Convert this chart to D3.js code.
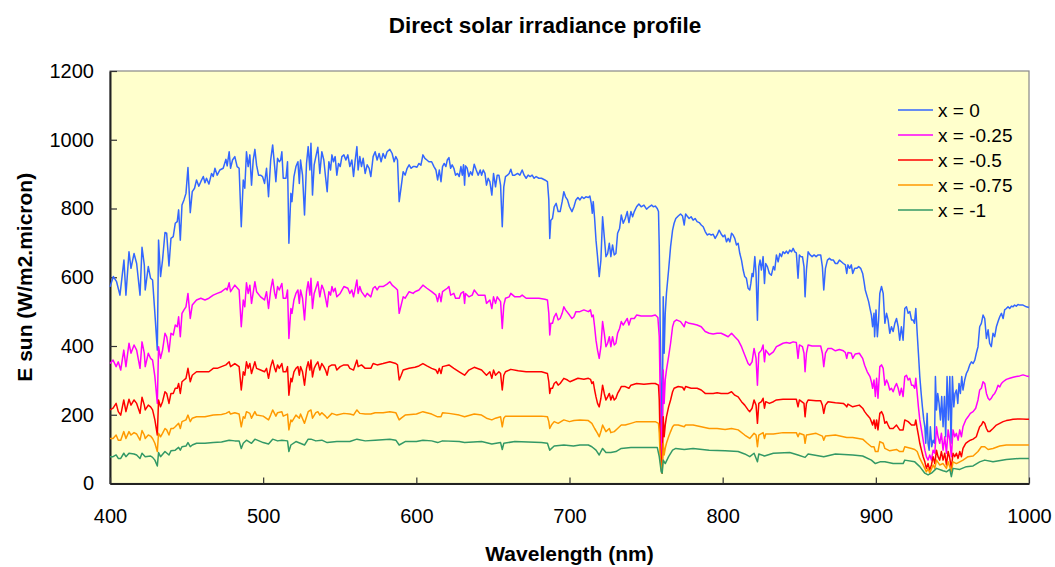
<!DOCTYPE html>
<html>
<head>
<meta charset="utf-8">
<title>Direct solar irradiance profile</title>
<script src="https://cdn.jsdelivr.net/npm/d3@7"></script>
<style>
  html, body { margin: 0; padding: 0; background: #ffffff; }
  svg { display: block; }
  text { font-family: "Liberation Sans", Arial, sans-serif; fill: #000; }
</style>
</head>
<body>
<svg id="chart" width="1055" height="567"></svg>
<script>
// Spectra: [wavelength (nm), E sun (W/m2.micron)] for each x value
const seriesX0 = [[400,572],[402.2,602],[404.3,587],[406.5,548],[409.1,650],[410.4,548],[412.4,674],[413.7,626],[415.7,669],[417.4,640],[419.6,548],[420.9,687],[422.4,636],[423,563],[425,631],[426.5,597],[427.8,592],[429.3,495],[430.9,388],[431.7,708],[433,602],[434.3,650],[435.9,730],[437,728],[438.5,633],[439.8,713],[441.3,718],[442.6,757],[443.9,762],[444.8,796],[445.9,708],[447,810],[448.3,825],[449.6,844],[450.9,919],[452.4,788],[453.7,849],[455.2,859],[456.5,883],[458,865],[459.3,878],[460.9,893],[462,875],[463,888],[464.6,871],[466.3,902],[467.4,893],[468.5,917],[470,897],[471.7,912],[473.9,917],[475.7,943],[476.5,924],[477.8,965],[478.7,917],[480,941],[481.5,951],[483,922],[484.3,917],[485.7,747],[487,883],[488,859],[489.1,965],[490.2,922],[491.3,956],[492.4,868],[493.5,941],[494.6,972],[495.7,926],[497,897],[498.3,897],
  [499.6,893],[500.9,873],[502.2,917],[503.5,834],[504.9,941],[506.2,985],[507.5,922],[508.3,878],[509.4,946],[510.5,936],[511.4,941],[512.2,965],[513.1,888],[514.9,888],[515.9,936],[516.8,699],[518.1,844],[518.8,820],[520.1,893],[521.4,922],[522.7,936],[523.6,873],[524.4,941],[525.7,897],[527,781],[528.3,931],[529.4,980],[530.5,912],[531.2,990],[532.2,839],[533.3,927],[534.4,951],[535.7,978],[537,902],[538.3,965],[539.6,941],[540.7,893],[541.8,849],[542.9,936],[544,912],[544.9,956],[545.9,936],[547,951],[548.1,897],[549.2,931],[550.3,922],[551.4,951],[552.7,956],[554,941],[555.3,956],[556.6,922],[557.9,941],[559,893],[560.1,941],[561.2,980],[562,912],[563.1,951],[564.2,922],[565.3,946],[566.6,902],[567.9,927],[569.2,917],[570.3,893],[571.8,951],[573.1,965],[574.4,941],[575.7,960],[577,936],[578.3,960],[579.6,946],[580.9,965],[582.7,972],[584.2,960],[585.5,936],[586.6,951],[587.7,941],[588.8,820],[590.1,863],[591.4,907],[592.7,897],[594,917],[595.3,927],[596.6,917],[597.9,922],
  [599.1,922],[600.4,920],[601.7,931],[603,926],[604.3,956],[605.6,946],[606.9,941],[608.2,936],[610,936],[611.5,922],[612.8,912],[613.9,883],[615,912],[616.1,878],[617.1,922],[618.2,931],[619.3,922],[620.2,941],[621.3,948],[622.4,917],[623.4,927],[624.5,917],[625.6,897],[626.9,902],[628,893],[629.1,922],[630,897],[630.8,927],[631.5,868],[632.1,924],[633.2,917],[634.3,893],[635.4,907],[636.5,897],[637.8,929],[639.1,912],[640.4,897],[641.7,912],[642.6,897],[643.7,912],[644.8,902],[645.8,868],[646.9,888],[648,878],[649.3,839],[650.4,902],[651.7,863],[652.8,897],[653.9,897],[655,868],[656.1,747],[657.1,863],[658.2,893],[659.5,897],[660.6,902],[661.7,914],[662.8,897],[664.3,897],[666.1,902],[667.6,897],[669.1,912],[670.4,897],[671.7,888],[673,897],[674.3,893],[675.6,897],[676.9,888],[678.2,893],[680,888],[681.7,888],[683.9,883],[685.6,878],[686.5,825],[687.1,713],[687.8,766],[688.9,771],[690,805],[691.3,815],[692.6,791],[693.9,791],[695.2,820],[696.3,849],[697.4,834],[698.7,825],[700,805],
  [701.6,791],[702.9,805],[704.2,825],[705.5,832],[706.8,825],[708.1,834],[709.4,829],[710.7,834],[712.3,832],[713.3,836],[714.2,815],[714.9,786],[715.5,820],[716.4,771],[717.3,708],[718.3,660],[719.4,602],[720.5,650],[721.6,776],[722.7,718],[723.8,660],[724.9,669],[726,699],[727,660],[728.1,694],[729.2,665],[730.3,669],[731.4,728],[732.7,742],[733.8,781],[735.1,757],[736.4,771],[737.7,791],[738.8,759],[740.1,791],[741.2,776],[742.3,791],[743.8,805],[745.3,813],[746.8,805],[748.6,810],[750.3,798],[752,805],[753.6,810],[754.7,805],[756,807],[757.3,800],[758.1,791],[758.6,689],[759.2,456],[759.9,262],[760.5,117],[761.2,543],[761.8,379],[762.5,495],[763.3,553],[764.7,621],[766,689],[767.3,737],[768.3,757],[769.4,771],[771,778],[772.5,784],[773.8,778],[774.9,752],[775.8,784],[776.8,778],[778.1,771],[779.4,776],[780.7,766],[782,771],[783.3,762],[784.7,759],[786,752],[787.3,747],[788.6,733],[789.9,723],[791.2,726],[792.5,723],[793.8,725],[795.1,713],[796.4,723],[797.7,737],[799,726],[800.3,718],
  [801.4,723],[802.5,703],[803.6,713],[804.7,703],[805.8,728],[806.8,723],[807.9,713],[809,694],[810.1,699],[811.2,669],[812.3,650],[813.4,621],[814.4,602],[815.5,597],[816.6,568],[817.7,563],[818.4,582],[819.2,611],[819.9,602],[821,660],[821.8,611],[822.7,475],[823.6,631],[824.4,650],[825.3,621],[826.4,660],[827.3,582],[828.1,640],[829.2,631],[830.5,611],[831.8,606],[833.1,631],[834,621],[835.1,665],[836.2,645],[837.3,669],[838.4,660],[839.4,674],[840.5,669],[841.6,676],[842.7,669],[843.8,679],[844.9,674],[846,684],[847.1,674],[848.1,671],[849.2,597],[850.1,665],[851,660],[852.1,660],[853.1,631],[853.8,543],[854.7,621],[855.8,674],[857.1,665],[858.4,660],[859.7,665],[861,660],[862.3,665],[864,665],[865.1,631],[866,563],[867.1,626],[868.4,650],[869.7,655],[871,650],[872.3,650],[873.6,640],[874.9,640],[876.2,650],[877.5,645],[878.8,640],[880.1,636],[881,611],[881.8,636],[882.9,626],[884,636],[884.9,611],[886.2,626],[887.5,626],[888.8,631],[890.1,626],[891.4,611],[892.3,587],[893.1,563],[894.4,543],[895.3,529],[896.2,509],[897.1,490],[897.9,456],[898.8,495],[899.2,427],[900.1,505],[901,427],[901.8,475],
  [902.6,553],[903.7,573],[904.8,553],[905.9,466],[907,495],[908,476],[909.1,437],[910.2,456],[911.3,442],[912.4,466],[913.5,480],[914.6,456],[915.6,417],[916.7,456],[917.8,417],[918.9,509],[920,514],[921.1,495],[922.2,500],[923.3,476],[924.3,476],[925.2,466],[926.1,509],[927,437],[927.8,379],[928.7,311],[929.6,262],[930.4,223],[931.3,185],[932,165],[932.6,117],[933.5,204],[934.1,117],[934.8,97],[935.6,165],[936.5,107],[937.4,126],[938.3,117],[938.9,311],[939.6,214],[940.4,262],[941.3,233],[942.2,185],[943,253],[943.9,165],[944.8,253],[945.6,136],[946.5,311],[947.4,185],[948.3,311],[949.1,117],[950,311],[950.9,223],[951.7,262],[952.6,272],[953.5,233],[954.3,291],[955.2,262],[956.1,311],[956.9,272],[958,301],[959.1,320],[960.2,330],[961.3,345],[962.4,354],[963.5,349],[964.6,359],[965.6,379],[966.7,398],[967.8,456],[968.9,466],[970,490],[971.1,480],[972.2,422],[973.3,447],[974.3,408],[975.4,398],[976.5,437],[977.6,427],[978.7,456],[979.8,471],[980.9,485],[982,495],[983.1,480],[984.1,505],[985.2,509],[986.3,514],[987.4,509],[988.5,516],[989.6,514],[990.6,519],[991.7,516],[992.8,521],[993.9,519],[996.1,519],[998.3,514],[1000,512]];

const seriesX025 = [[400,349],[402,359],[404,340],[405.4,354],[407,330],[409,388],[410.4,340],[412.4,408],[413.7,379],[415.7,403],[417.4,388],[419.6,335],[420.9,412],[422.4,379],[423,340],[425,379],[426.5,364],[427.8,359],[429.3,311],[430.9,233],[431.7,398],[433,364],[434.3,388],[435.9,437],[437,427],[438.5,383],[439.8,437],[441.3,432],[442.6,461],[443.9,456],[444.8,485],[445.9,427],[447,495],[448.3,505],[449.6,514],[450.9,553],[452.4,480],[453.7,519],[456.5,534],[459.3,539],[462,534],[464.6,539],[467.4,548],[470,553],[472.8,558],[475.7,568],[476.5,563],[477.8,584],[478.7,558],[481.5,577],[484.3,563],[485.7,456],[487,534],[488,514],[489.1,584],[490.2,553],[491.3,577],[492.4,524],[494.6,587],[495.7,558],[498.3,543],
  [500.9,534],[502.2,558],[503.5,509],[504.9,563],[506.2,594],[507.5,553],[508.3,539],[509.4,573],[510.5,563],[512.2,582],[513.1,539],[514.9,539],[515.9,563],[516.8,422],[518.1,509],[518.8,495],[520.1,534],[521.4,553],[522.7,563],[523.6,524],[524.4,563],[525.7,539],[527,476],[528.3,558],[529.4,587],[530.5,548],[531.2,597],[532.2,509],[533.3,553],[534.4,568],[535.7,587],[537,543],[538.3,577],[539.6,563],[540.7,539],[541.8,514],[542.9,558],[544,548],[544.9,573],[545.9,558],[547,568],[548.1,543],[550.3,553],[552.7,573],[555.3,568],[556.6,553],[557.9,563],[559,543],[561.2,592],[562,553],[563.1,573],[564.2,558],[566.6,543],[567.9,553],[570.3,543],[571.8,568],[573.1,573],[574.4,563],[575.7,573],[578.3,573],[580.9,580],[582.7,587],[584.2,577],[586.6,568],[587.7,563],[588.8,495],[590.1,519],[591.4,543],[592.7,539],[595.3,558],[597.9,553],
  [599.1,558],[601.7,563],[604.3,577],[606.9,568],[610,558],[612.8,548],[613.9,529],[615,553],[616.1,529],[617.1,558],[620.2,568],[621.3,573],[622.4,548],[624.5,553],[625.6,539],[628,539],[629.1,553],[630.8,558],[631.5,524],[632.1,553],[634.3,543],[636.5,548],[637.8,563],[640.4,548],[642.6,548],[644.8,548],[645.8,524],[648,534],[649.3,509],[650.4,543],[651.7,524],[652.8,543],[655,529],[656.1,451],[657.1,519],[658.2,539],[660.6,543],[661.7,553],[664.3,543],[667.6,543],[669.1,548],[671.7,539],[674.3,539],[676.9,539],[680,539],[683.9,536],[685.6,534],[686.5,495],[687.1,432],[687.8,466],[688.9,466],[690,485],[691.3,495],[692.6,476],[693.9,480],[695.2,495],[696.3,514],[697.4,505],[700,490],
  [701.6,480],[702.9,485],[704.2,500],[706.8,500],[709.4,505],[712.3,500],[713.7,505],[714.6,485],[715.5,490],[716.4,456],[717.3,417],[718.3,388],[719.4,364],[720.5,398],[721.6,471],[722.7,437],[723.8,398],[724.9,408],[726,427],[727,398],[728.1,427],[729.2,403],[730.3,408],[731.4,437],[732.7,451],[733.8,471],[735.1,461],[736.4,471],[737.7,480],[738.8,461],[740.1,480],[742.3,480],[743.8,490],[746.8,487],[750.3,487],[753.6,487],[756,490],[757.7,483],[758.6,427],[759.2,262],[759.9,117],[760.5,68],[761.2,330],[761.8,233],[762.5,301],[763.3,330],[764.7,369],[766,408],[767.3,456],[768.3,471],[769.9,476],[772.5,471],[774.9,456],[775.8,471],[778.1,466],[780.7,464],[783.3,461],[786,456],[788.6,442],[791.2,437],[793.8,435],[796.4,437],[799,437],
  [801.4,432],[803.6,427],[805.8,437],[807.9,427],[810.1,417],[812.3,398],[814.4,374],[816.6,349],[817.7,344],[819.2,354],[820.5,393],[821.8,364],[822.7,286],[823.6,379],[825.3,388],[826.4,403],[827.3,354],[828.1,388],[830.5,374],[833.1,383],[835.1,398],[837.3,403],[839.4,408],[841.6,410],[843.8,408],[846,412],[848.1,410],[849.2,364],[850.1,403],[852.1,398],[853.1,379],[853.8,325],[854.7,379],[855.8,403],[858.4,400],[861,400],[864,400],[865.1,379],[866,340],[867.1,379],[868.8,393],[871,393],[873.6,386],[876.2,390],[878.8,386],[880.1,381],[881,364],[881.8,381],[884,379],[884.9,364],[886.6,377],[889.2,379],[891.4,364],[892.7,344],[894.4,325],[896.2,311],[897.1,296],[897.9,277],[898.8,301],[899.7,253],[900.5,306],[901.4,248],
  [902.6,340],[903.7,345],[904.8,335],[905.9,286],[907,301],[908,291],[909.1,272],[910.2,277],[911.3,267],[912.4,281],[913.5,291],[914.6,277],[915.6,257],[916.7,277],[917.8,253],[918.9,311],[920,315],[921.1,301],[922.2,306],[923.3,286],[924.3,286],[925.4,277],[926.1,306],[927,262],[927.8,223],[928.7,185],[929.8,156],[930.9,126],[932,97],[933,78],[934.1,68],[935.2,83],[936.3,68],[937.4,97],[938.5,88],[939.6,165],[940.6,136],[941.7,117],[942.8,146],[943.9,97],[945,136],[946.1,88],[947.2,156],[948.3,126],[949.3,78],[950.4,156],[951.5,136],[952.6,146],[953.7,126],[954.8,156],[955.9,136],[956.9,165],[958.7,185],[960.2,194],[961.7,204],[963.5,209],[965.2,219],[966.7,243],[967.8,272],[968.9,277],[970,296],[971.1,291],[972.2,262],[973.3,248],[974.3,243],[975.4,248],[976.5,257],[977.6,262],[978.7,272],[979.8,286],[980.9,281],[982,291],[983.1,296],[985.2,303],[987.4,306],[989.6,309],[991.7,311],[993.9,313],[996.1,316],[998.3,313],[1000,311]];

const seriesX05 = [[400,214],[402,219],[404,233],[405.4,209],[407,199],[409,243],[410.4,209],[412.4,245],[413.7,228],[415.7,243],[417.4,233],[419.6,204],[420.9,251],[422.4,228],[423,214],[425,228],[426.5,223],[427.8,214],[429.3,185],[430.9,141],[431.7,243],[433,223],[434.3,238],[435.9,267],[437,262],[438.5,233],[439.8,262],[441.3,262],[442.6,277],[443.9,277],[444.8,291],[445.9,262],[447,296],[448.3,301],[449.6,306],[450.9,335],[452.4,296],[453.7,315],[456.5,325],[459.3,325],[462,325],[464.6,325],[467.4,335],[470,335],[472.8,340],[475.7,345],[477.8,354],[478.7,340],[481.5,349],[484.3,340],[485.7,272],[487,325],[488,315],[489.1,354],[490.2,335],[491.3,349],[492.4,320],[494.6,354],[495.7,335],[498.3,330],
  [500.9,325],[502.2,335],[503.5,306],[504.9,340],[506.2,359],[507.5,335],[508.3,325],[509.4,345],[510.5,335],[512.2,349],[513.1,325],[514.9,325],[515.9,340],[516.8,257],[518.1,306],[518.8,296],[520.1,325],[521.4,335],[522.7,340],[523.6,315],[524.4,340],[525.7,325],[527,286],[528.3,335],[529.4,354],[530.5,330],[531.2,359],[532.2,310],[533.3,335],[534.4,345],[535.7,354],[537,330],[538.3,349],[539.6,340],[540.7,330],[541.8,315],[542.9,340],[544.9,345],[547,345],[548.1,330],[550.3,340],[552.7,345],[555.3,345],[556.6,335],[559,330],[561.2,359],[562,340],[564.2,345],[566.6,335],[570.3,335],[571.8,349],[574.4,345],[578.3,349],[582.7,354],[586.6,349],[587.7,345],[588.8,301],[590.1,315],[591.4,330],[595.3,335],
  [599.1,338],[601.7,342],[604.3,349],[606.9,342],[610,335],[612.8,330],[613.9,320],[615,335],[616.1,320],[617.1,340],[621.3,345],[624.5,335],[628,325],[631.5,315],[634.3,330],[637.8,338],[642.6,330],[645.8,315],[648,325],[649.3,306],[650.4,330],[651.7,315],[653.9,325],[655,320],[656.1,272],[657.1,315],[658.2,325],[661.7,332],[666.5,328],[671.7,325],[676.9,325],[681.7,325],[685.6,320],[686.5,296],[687.1,262],[687.8,277],[688.9,277],[690,291],[691.3,296],[692.6,286],[693.9,291],[696.3,306],[698.7,301],
  [700.3,296],[702.9,301],[705.5,306],[709.4,303],[712.3,306],[713.7,303],[714.6,291],[715.5,296],[716.4,272],[717.3,252],[718.3,233],[719.4,223],[720.5,248],[721.6,286],[722.7,262],[723.8,243],[724.9,252],[726,262],[727,243],[728.1,257],[729.2,243],[730.3,248],[731.4,262],[732.7,272],[733.8,282],[736.4,282],[738.8,277],[740.1,286],[743.8,291],[748.6,289],[753.6,291],[756,291],[758.1,286],[758.6,243],[759.2,117],[759.9,54],[760.5,30],[761.2,194],[761.8,136],[762.5,170],[763.3,194],[764.7,223],[766,243],[767.3,267],[768.3,277],[771,282],[773.8,280],[774.9,272],[775.8,282],[779.4,277],[783.3,277],[786,272],[788.6,262],[791.2,262],[793.8,262],[796.4,264],[799,262],
  [801.4,262],[803.6,262],[805.8,267],[807.9,257],[810.1,252],[812.3,238],[814.4,228],[816.6,214],[817.7,209],[819.2,219],[820.5,243],[821.8,228],[822.7,175],[823.6,233],[825.3,238],[826.4,248],[827.3,219],[828.1,238],[830.5,233],[833.1,238],[835.1,243],[839.4,245],[843.8,245],[848.1,245],[849.2,223],[850.1,243],[853.1,233],[853.8,194],[854.7,233],[855.8,243],[861,241],[864,241],[865.1,228],[866,204],[867.1,228],[868.8,238],[873.6,235],[878.8,233],[880.1,228],[881,223],[881.8,231],[884.9,223],[889.2,228],[891.4,219],[892.7,209],[894.4,199],[896.2,190],[897.1,180],[897.9,170],[898.8,185],[899.7,160],[900.5,185],[901.4,156],
  [902.6,204],[903.7,209],[904.8,199],[905.9,175],[907,180],[908,170],[909.1,160],[911.3,160],[913.5,170],[915.6,156],[917.8,156],[918.9,185],[921.1,180],[923.3,170],[925.4,170],[926.1,185],[927,160],[927.8,141],[928.7,117],[929.8,97],[930.9,78],[932,63],[933,44],[934.1,58],[935.2,39],[936.3,54],[937.4,78],[938.5,58],[939.6,97],[940.6,78],[941.7,68],[942.8,93],[943.9,68],[945,88],[946.1,54],[947.2,93],[948.3,73],[949.3,44],[950.4,88],[951.5,78],[952.6,88],[953.7,73],[954.8,93],[955.9,78],[956.9,102],[958.7,117],[960.2,122],[961.7,126],[963.5,129],[965.6,136],[966.7,151],[967.8,165],[968.9,170],[970,180],[971.1,175],[972.2,160],[973.3,151],[974.3,151],[976.5,160],[978.7,170],[980.9,175],[983.1,180],[985.2,183],[987.4,185],[989.6,187],[993.9,188],[998.3,187],[1000,187]];

const seriesX075 = [[400,131],[402,131],[404,141],[405.4,126],[407,126],[409,151],[410.4,131],[412.4,151],[413.7,141],[415.7,148],[417.4,144],[419.6,126],[420.9,154],[422.4,141],[423,131],[425,141],[426.5,138],[427.8,131],[429.3,117],[430.9,93],[431.7,146],[433,136],[434.3,146],[435.9,160],[437,156],[438.5,141],[439.8,160],[441.3,160],[442.6,165],[444.8,175],[445.9,160],[447,180],[449.6,185],[450.9,199],[452.4,180],[453.7,190],[456.5,194],[462,194],[467.4,199],[472.8,201],[475.7,204],[477.8,209],[478.7,202],[481.5,206],[484.3,202],[485.7,165],[487,194],[488,190],[489.1,209],[491.3,204],[492.4,190],[494.6,209],[495.7,199],[500,196],
  [503.5,185],[504.9,199],[506.2,214],[508.3,196],[509.4,206],[512.2,209],[513.1,196],[515.9,202],[516.8,156],[518.1,185],[518.8,180],[521.4,199],[523.6,190],[524.4,202],[527,175],[529.4,209],[531.2,214],[532.2,190],[534.4,206],[535.7,209],[537,199],[538.3,206],[540.7,196],[541.8,190],[544.9,204],[548.1,199],[552.7,204],[556.6,202],[559,199],[561.2,214],[563.1,204],[566.6,202],[570.3,202],[573.1,206],[578.3,206],[582.7,209],[586.6,206],[588.8,185],[590.1,190],[592.7,199],[600.1,202],
  [604.3,209],[610,202],[613.9,194],[616.1,194],[617.1,206],[621.3,204],[628,199],[631.5,194],[637.8,202],[642.6,199],[645.8,190],[649.3,185],[651.7,190],[655,194],[656.1,165],[657.1,190],[658.2,196],[664.3,196],[673,196],[681.7,196],[685.6,194],[686.5,180],[687.1,160],[688.2,170],[690,180],[692.6,175],[696.3,185],[700,180],
  [702.9,183],[706.8,185],[712.3,183],[714.6,175],[716.4,160],[718.3,146],[719.4,136],[720.5,151],[721.6,170],[723.8,151],[726,160],[727,148],[729.2,151],[731.4,160],[733.8,170],[736.4,170],[740.1,175],[743.8,180],[750.3,180],[756,180],[758.1,175],[758.6,146],[759.2,78],[759.9,39],[760.5,30],[761.2,117],[761.8,83],[762.5,102],[763.3,117],[764.7,136],[766,151],[767.3,165],[768.3,170],[771,170],[774.9,165],[775.8,170],[780.7,170],[786,165],[791.2,160],[796.4,160],[801.6,157],
  [805.8,160],[810.1,156],[814.4,141],[817.7,131],[820.5,146],[821.8,141],[822.7,107],[823.6,141],[826.4,148],[827.3,131],[828.1,144],[833.1,144],[839.4,148],[848.1,148],[849.2,136],[850.1,146],[853.1,141],[853.8,117],[854.7,141],[861,146],[865.1,138],[866,126],[867.1,138],[873.6,141],[881,134],[884.9,134],[891.4,129],[894.4,117],[897.1,107],[898.8,107],[899.7,93],[901.4,93],
  [902.6,122],[904.8,117],[905.9,102],[909.1,95],[913.5,99],[915.6,93],[917.8,93],[918.9,107],[923.3,102],[925.4,99],[927,93],[928.7,73],[930.9,54],[933,34],[934.1,44],[935.2,30],[937.4,54],[938.5,44],[939.6,68],[941.7,54],[943.9,58],[946.1,44],[947.2,63],[949.3,34],[950.4,63],[952.6,58],[954.8,63],[956.9,68],[960.2,78],[963.5,80],[966.7,93],[968.9,107],[971.1,107],[973.3,99],[976.5,102],[980.9,109],[985.2,112],[989.6,112],[993.9,112],[1000,112]];

const seriesX1 = [[400,78],[402,78],[404,83],[405.4,73],[407,73],[409,88],[410.4,78],[412.4,88],[415.7,86],[417.4,83],[419.6,73],[420.9,88],[423,78],[426.5,80],[427.8,76],[429.3,68],[430.9,51],[431.7,90],[433,78],[435.9,93],[438.5,83],[439.8,95],[442.6,97],[444.8,105],[445.9,97],[447,107],[449.6,109],[450.9,119],[452.4,107],[453.7,112],[456.5,117],[462,117],[467.4,119],[472.8,121],[477.8,126],[481.5,124],[484.3,124],[485.7,102],[487,117],[489.1,126],[492.4,117],[494.6,129],[500,119],
  [503.5,115],[506.2,129],[509.4,124],[512.2,126],[515.9,124],[516.8,93],[518.1,112],[521.4,122],[527,112],[529.4,129],[531.2,129],[534.4,124],[538.3,126],[541.8,119],[548.1,122],[556.6,122],[561.2,129],[566.6,124],[573.1,126],[582.7,129],[586.6,126],[588.8,112],[592.7,122],[600.1,122],
  [604.3,126],[610,124],[613.9,119],[617.1,124],[628,122],[631.5,119],[642.6,122],[649.3,115],[655,119],[656.1,99],[657.1,117],[664.3,122],[681.7,119],[685.6,117],[687.1,97],[690,109],[696.3,112],[702.6,109],
  [706.8,112],[712.3,112],[714.6,107],[717.3,97],[719.4,83],[720.5,93],[721.6,102],[723.8,90],[727,90],[730.3,93],[733.8,102],[740.1,105],[750.3,105],[757.3,105],[758.6,78],[759.9,34],[760.5,30],[761.2,68],[762.5,58],[764.7,78],[767.3,97],[769.4,102],[774.9,99],[780.7,102],[791.2,97],[801.6,95],
  [810.1,93],[814.4,86],[817.7,78],[820.5,88],[822.7,63],[823.6,86],[827.3,80],[833.1,88],[843.8,90],[849.2,83],[853.8,76],[855.8,86],[866,78],[873.6,86],[884.9,83],[891.4,80],[897.1,68],[899.7,58],[902.7,63],
  [905.9,63],[911.3,58],[917.8,58],[918.9,68],[925.4,63],[928.7,49],[932,30],[934.1,25],[936.3,30],[939.6,44],[943.9,37],[946.1,34],[948.3,41],[949.3,20],[950.4,44],[954.8,41],[959.1,49],[963.5,51],[967.8,63],[971.1,68],[976.5,63],[985.2,70],[993.9,73],[1000,73]];

const seriesNames = ["x = 0", "x = -0.25", "x = -0.5", "x = -0.75", "x = -1"];
const seriesColors = ["#3366ff", "#ff00ff", "#ff0000", "#ff9900", "#339966"];
const xTicks = [400, 500, 600, 700, 800, 900, 1000];
const yTicks = [0, 200, 400, 600, 800, 1000, 1200];

const allSeries = [seriesX0, seriesX025, seriesX05, seriesX075, seriesX1];

const svg = d3.select("#chart");
const plot = { left: 110, right: 1029, top: 71, bottom: 483.5 };

const x = d3.scaleLinear().domain([400, 1000]).range([plot.left, plot.right]);
const y = d3.scaleLinear().domain([0, 1200]).range([plot.bottom, plot.top]);

// plot background and frame
svg.append("rect")
  .attr("x", plot.left).attr("y", plot.top)
  .attr("width", plot.right - plot.left).attr("height", plot.bottom - plot.top)
  .attr("fill", "#ffffcc").attr("stroke", "#888888").attr("stroke-width", 1.2);

// axes with inward ticks
const yAxis = d3.axisLeft(y).tickValues(yTicks).tickFormat(d3.format("d"))
  .tickSizeInner(-7).tickSizeOuter(0).tickPadding(16);
const gy = svg.append("g").attr("transform", `translate(${plot.left},0)`).call(yAxis);

const xAxis = d3.axisBottom(x).tickValues(xTicks).tickFormat(d3.format("d"))
  .tickSizeInner(-6).tickSizeOuter(0).tickPadding(25);
const gx = svg.append("g").attr("transform", `translate(0,${plot.bottom})`).call(xAxis);

[gx, gy].forEach(g => {
  g.select(".domain").attr("stroke", "#222").attr("stroke-width", 2);
  g.selectAll(".tick line").attr("stroke", "#333").attr("stroke-width", 1.2);
  g.selectAll(".tick text")
    .style("font-family", '"Liberation Sans", Arial, sans-serif')
    .style("font-size", "20px").attr("fill", "#000");
});

// spectra
const line = d3.line().x(d => x(d[0])).y(d => y(d[1]));
const gLines = svg.append("g");
allSeries.forEach((s, i) => {
  gLines.append("path")
    .datum(s)
    .attr("fill", "none")
    .attr("stroke", seriesColors[i])
    .attr("stroke-width", 1.5)
    .attr("stroke-linejoin", "round")
    .attr("d", line);
});

// legend
const legend = svg.append("g").attr("transform", "translate(898,110)");
seriesNames.forEach((name, i) => {
  const row = legend.append("g").attr("transform", `translate(0,${i * 25})`);
  row.append("line").attr("x1", 0).attr("x2", 35).attr("y1", 0).attr("y2", 0)
    .attr("stroke", seriesColors[i]).attr("stroke-width", 1.5);
  row.append("text").attr("x", 40).attr("y", 0).attr("dy", "0.36em")
    .style("font-size", "19px").text(name);
});

// titles
svg.append("text")
  .attr("x", 545).attr("y", 33)
  .attr("text-anchor", "middle")
  .style("font-size", "22.5px").style("font-weight", "bold")
  .text("Direct solar irradiance profile");

svg.append("text")
  .attr("x", (plot.left + plot.right) / 2).attr("y", 561)
  .attr("text-anchor", "middle")
  .style("font-size", "21px").style("font-weight", "bold")
  .text("Wavelength (nm)");

svg.append("text")
  .attr("transform", `translate(32,${(plot.top + plot.bottom) / 2}) rotate(-90)`)
  .attr("text-anchor", "middle")
  .style("font-size", "21px").style("font-weight", "bold")
  .text("E sun (W/m2.micron)");
</script>
</body>
</html>
